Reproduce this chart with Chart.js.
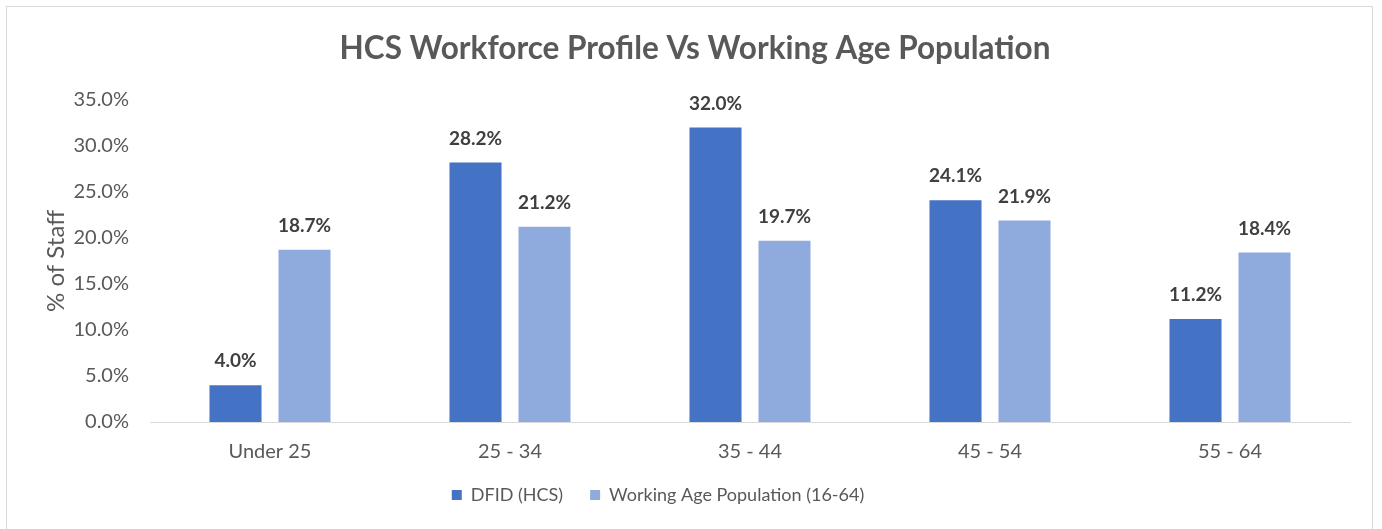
<!DOCTYPE html>
<html>
<head>
<meta charset="utf-8">
<script src="https://cdn.jsdelivr.net/npm/chart.js@4.4.1/dist/chart.umd.min.js"></script>
<style>
  html, body { margin: 0; padding: 0; background: #fff; }
  #frame {
    position: absolute; left: 6px; top: 6px; width: 1367px; height: 540px;
    border: 1px solid #d9d9d9; box-sizing: border-box;
  }
  #wrap { position: absolute; left: 0; top: 0; width: 1382px; height: 529px; }
</style>
</head>
<body>
<div id="frame"></div>
<div id="wrap"><canvas id="ageChart" width="1382" height="529"></canvas></div>
<script>
const ageBands = ['Under 25', '25 - 34', '35 - 44', '45 - 54', '55 - 64'];
const dfidShare = [4.0, 28.2, 32.0, 24.1, 11.2];
const workingAgeShare = [18.7, 21.2, 19.7, 21.9, 18.4];

const FONT = 'Lato, "Open Sans", sans-serif';
const TEXT = '#595959';

// writes the percentage above every bar
const barValueLabels = {
    id: 'barValueLabels',
    afterDatasetsDraw(chart) {
        const ctx = chart.ctx;
        ctx.save();
        ctx.font = `bold 19px ${FONT}`;
        ctx.fillStyle = '#404040';
        ctx.textAlign = 'center';
        ctx.textBaseline = 'middle';
        chart.data.datasets.forEach((ds, i) => {
            chart.getDatasetMeta(i).data.forEach((bar, j) => {
                ctx.fillText(ds.data[j].toFixed(1) + '%', bar.x, bar.y - 24);
            });
        });
        ctx.restore();
    }
};

// the legend sits a little left of centre and closer to the axis labels
const legendNudge = {
    id: 'legendNudge',
    afterLayout(chart) {
        const lg = chart.legend;
        lg.left -= 37;
        lg.right -= 37;
        lg.top -= 15;
        lg.bottom -= 15;
    }
};

new Chart(document.getElementById('ageChart'), {
    type: 'bar',
    data: {
        labels: ageBands,
        datasets: [{
            label: 'DFID (HCS)',
            data: dfidShare,
            backgroundColor: '#4472C4'
        }, {
            label: 'Working Age Population (16-64)',
            data: workingAgeShare,
            backgroundColor: '#8FAADC'
        }]
    },
    options: {
        responsive: false,
        animation: false,
        layout: { padding: { top: 30, left: 40, right: 32, bottom: 0 } },
        datasets: { bar: { categoryPercentage: 0.575, barPercentage: 0.754 } },
        plugins: {
            title: {
                display: true,
                text: 'HCS Workforce Profile Vs Working Age Population',
                color: TEXT,
                font: { family: FONT, size: 31.5, weight: 'bold' },
                padding: { top: 0, bottom: 32 }
            },
            legend: {
                position: 'bottom',
                labels: {
                    color: TEXT,
                    font: { family: FONT, size: 18 },
                    boxWidth: 10,
                    boxHeight: 10,
                    padding: 27
                }
            },
            tooltip: { enabled: false }
        },
        scales: {
            x: {
                grid: { display: false },
                border: { color: '#d9d9d9', width: 1 },
                ticks: { color: TEXT, font: { family: FONT, size: 20 }, padding: 10 }
            },
            y: {
                min: 0,
                max: 35,
                afterFit(scale) { scale.width = 110; },
                grid: { display: false },
                border: { display: false },
                ticks: {
                    stepSize: 5,
                    color: TEXT,
                    font: { family: FONT, size: 20 },
                    padding: 13,
                    callback: v => v.toFixed(1) + '%'
                },
                title: {
                    display: true,
                    text: '% of Staff',
                    color: TEXT,
                    font: { family: FONT, size: 24 },
                    padding: { top: 2, bottom: 0 }
                }
            }
        }
    },
    plugins: [barValueLabels, legendNudge]
});
</script>
</body>
</html>
